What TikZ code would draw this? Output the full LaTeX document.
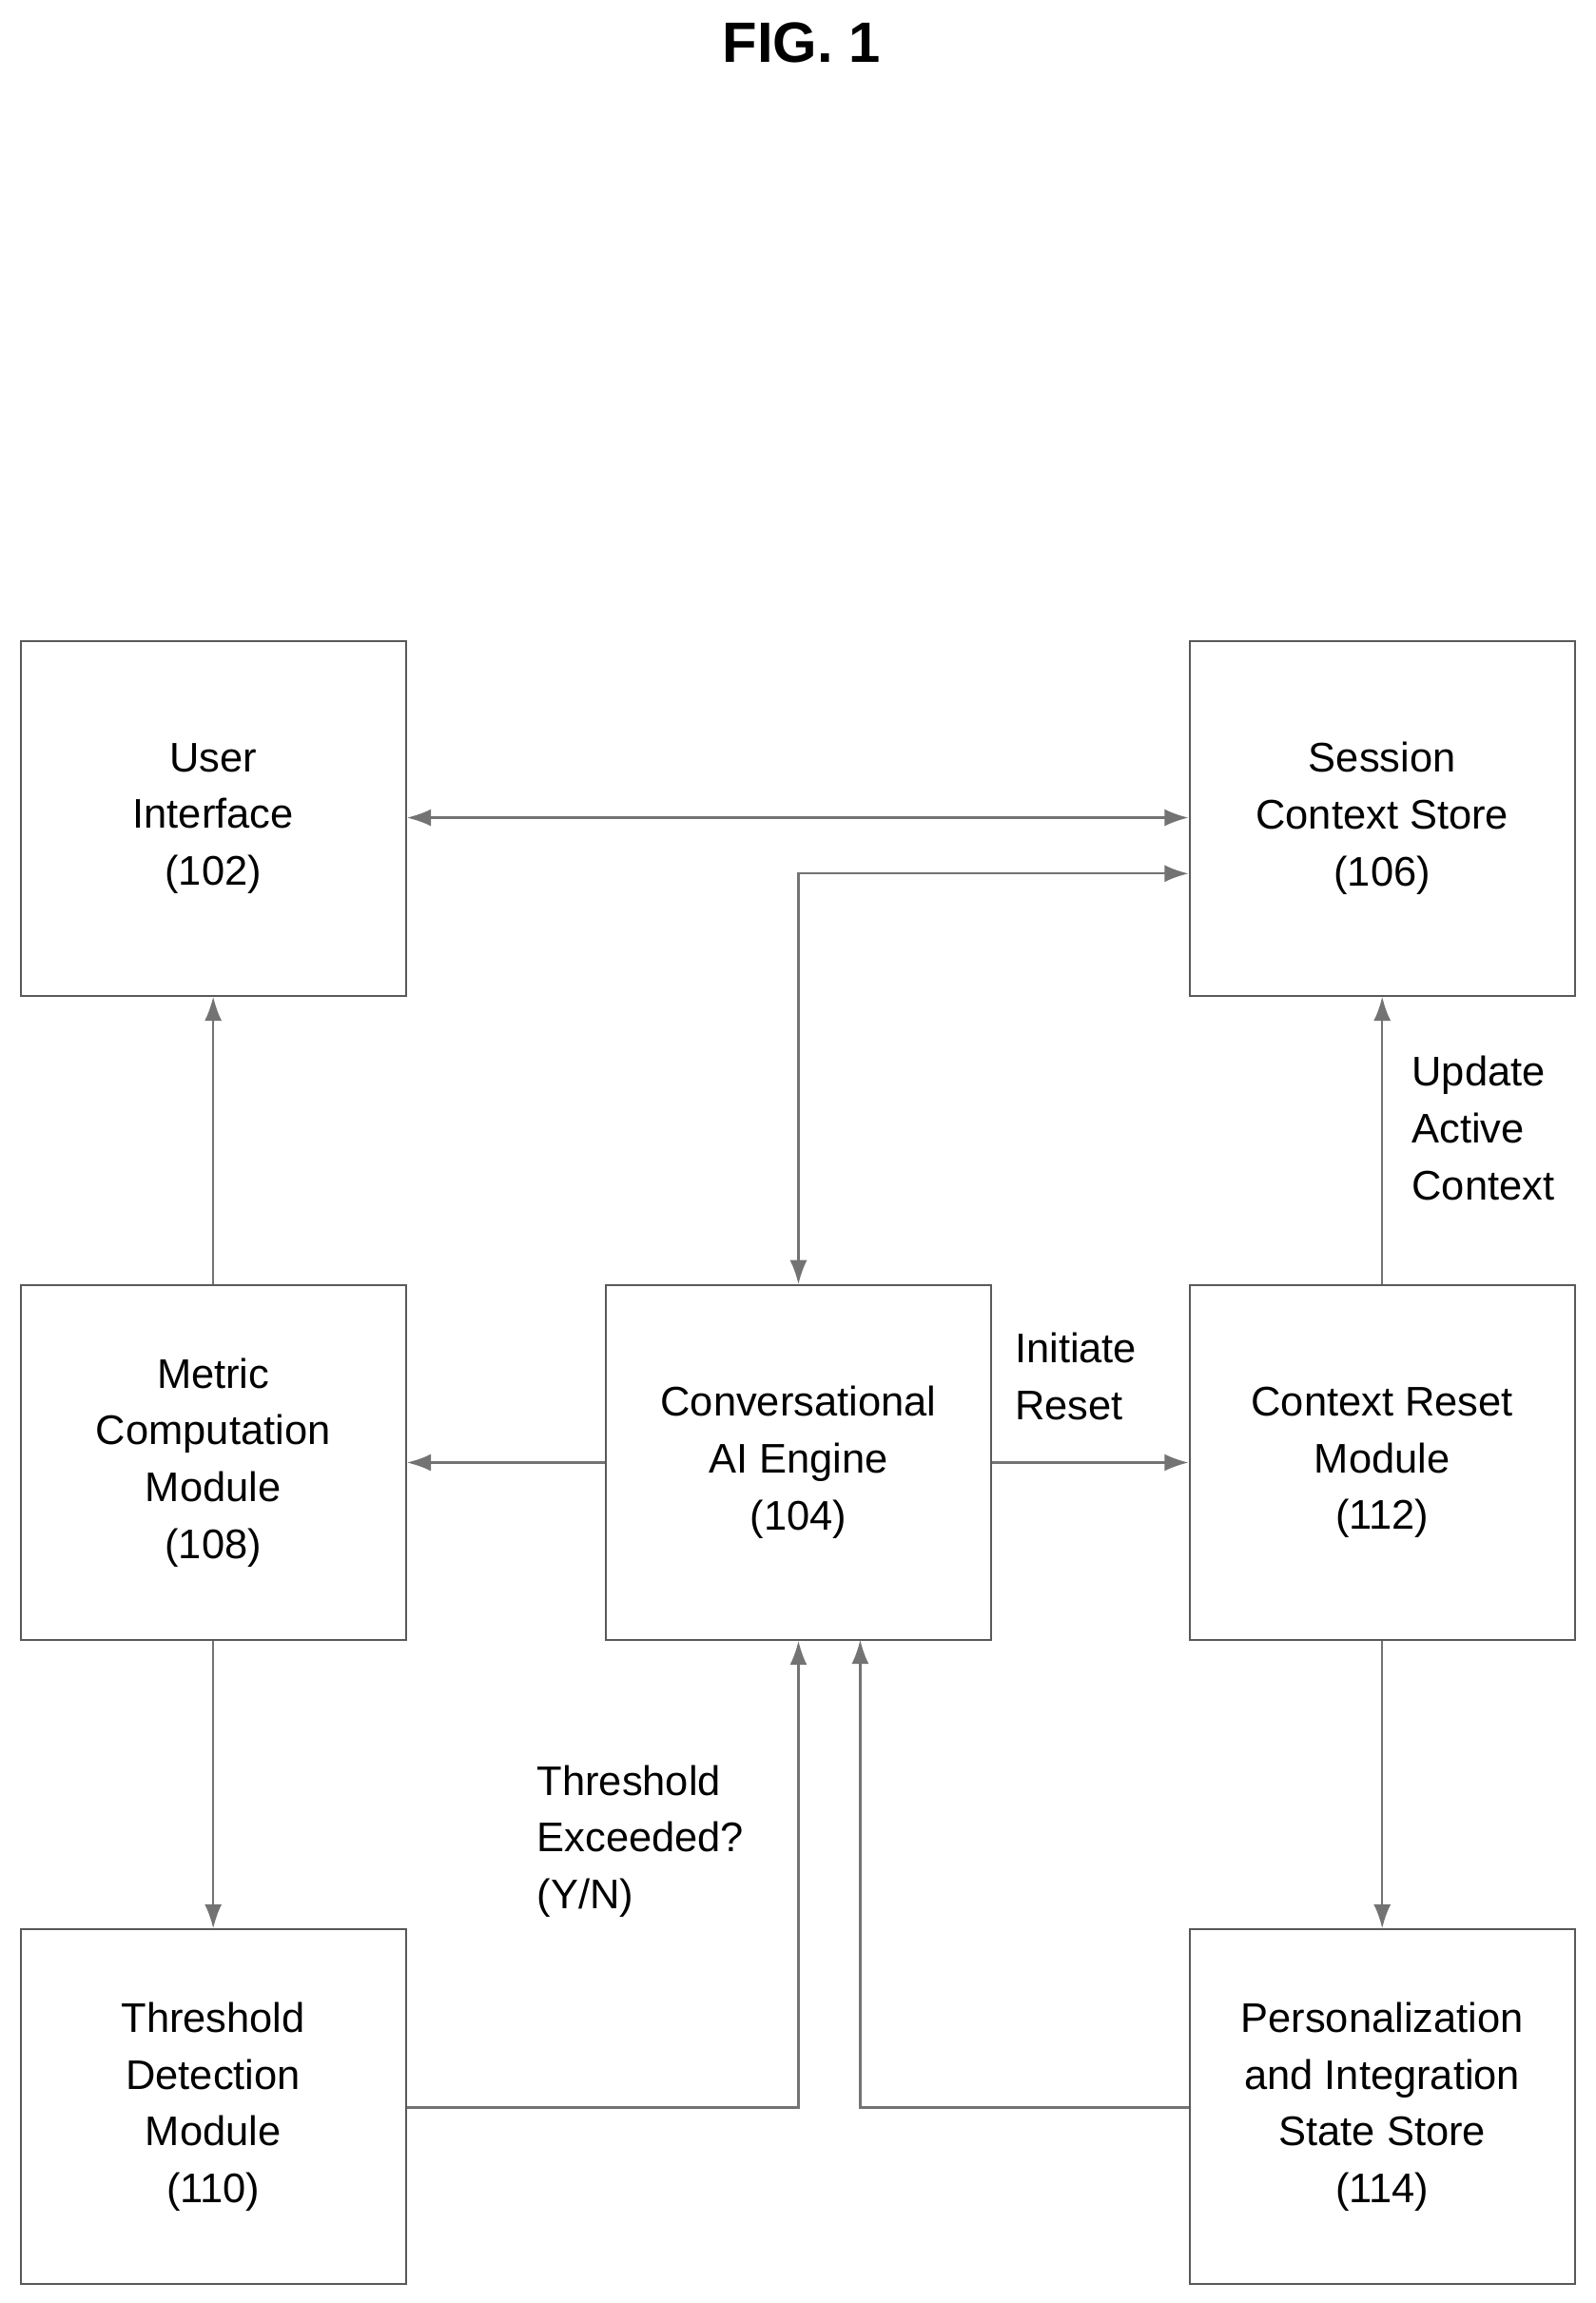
\documentclass[tikz,border=0pt]{standalone}
\usepackage{fontspec}
\setmainfont{Liberation Sans}
\usetikzlibrary{arrows.meta}
\begin{document}
\begin{tikzpicture}[x=0.03cm,y=-0.03cm,
  box/.style={draw=black!65,line width=1.2pt,minimum width=7.86cm,minimum height=7.23cm,align=center,inner sep=0pt,font=\fontsize{24}{33}\selectfont},
  arr/.style={draw=black!55,line width=1.3pt,-{Latex[length=14pt,width=10pt]}},
  darr/.style={arr,{Latex[length=14pt,width=10pt]}-{Latex[length=14pt,width=10pt]}},
  lab/.style={align=left,anchor=north west,inner sep=0pt,font=\fontsize{24}{33}\selectfont}]
\useasboundingbox (0,0) rectangle (1085,1566);
\node[font=\bfseries\fontsize{33}{36}\selectfont] (title) at (545,29) {FIG. 1};
\node[box] (ui) at (145,556.5) {User\\Interface\\(102)};
\node[box] (sc) at (940,556.5) {Session\\Context Store\\(106)};
\node[box] (mc) at (145,994.5) {Metric\\Computation\\Module\\(108)};
\node[box] (ai) at (543,994.5) {Conversational\\AI Engine\\(104)};
\node[box] (cr) at (940,994.5) {Context Reset\\Module\\(112)};
\node[box] (td) at (145,1432.5) {Threshold\\Detection\\Module\\(110)};
\node[box] (ps) at (940,1432.5) {Personalization\\and Integration\\State Store\\(114)};
\draw[darr] (ui.east |- 0,556) -- (sc.west |- 0,556);
\draw[darr] (ai.north) -- (543,594) -- (sc.west |- 0,594);
\draw[arr] (mc) -- (ui);
\draw[arr] (ai) -- (mc);
\draw[arr] (ai) -- (cr);
\draw[arr] (cr) -- (sc);
\draw[arr] (mc) -- (td);
\draw[arr] (cr) -- (ps);
\draw[arr] (td.east |- 0,1433) -- (543,1433) -- (ai.south);
\draw[arr] (ps.west |- 0,1433) -- (585,1433) -- (585,1115);
\node[lab] (l1) at (690,906) {Initiate\\Reset};
\node[lab] (l2) at (960,718) {Update\\Active\\Context};
\node[lab] (l3) at (365,1200) {Threshold\\Exceeded?\\(Y/N)};
\end{tikzpicture}
\end{document}
